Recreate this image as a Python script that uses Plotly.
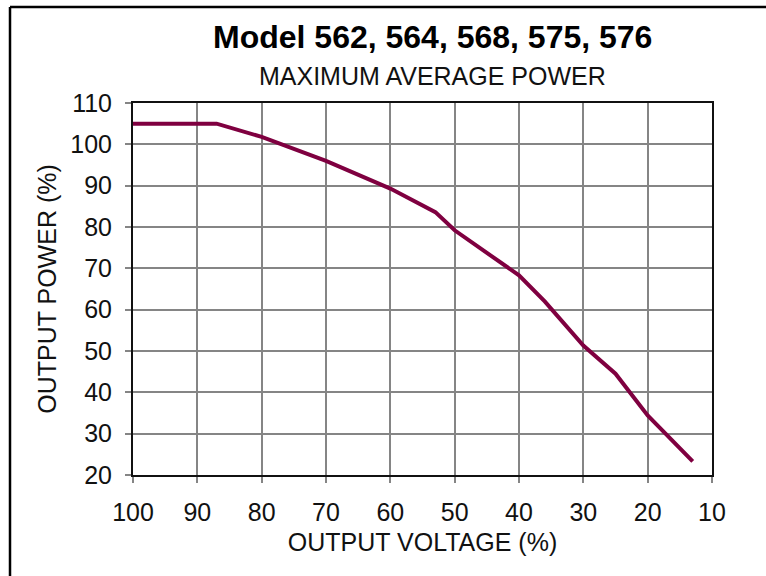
import plotly.graph_objects as go

# Data
output_voltage_pct = [100, 87, 80, 70, 60, 53, 50, 40, 36, 30, 25, 20, 13]
output_power_pct = [105, 105, 101.8, 96, 89.3, 83.6, 79.2, 68.3, 62, 51.3, 44.5, 34.4, 23.3]

x_ticks = [100, 90, 80, 70, 60, 50, 40, 30, 20, 10]
y_ticks = [20, 30, 40, 50, 60, 70, 80, 90, 100, 110]

title_text = "Model 562, 564, 568, 575, 576"
subtitle_text = "MAXIMUM AVERAGE POWER"
x_title = "OUTPUT VOLTAGE (%)"
y_title = "OUTPUT POWER (%)"

FONT = "Liberation Sans, Arial, sans-serif"

fig = go.Figure()
fig.add_trace(go.Scatter(
    x=output_voltage_pct, y=output_power_pct, mode="lines",
    line=dict(color="#7f0040", width=4), showlegend=False, hoverinfo="x+y",
))

W, H = 766, 576
ML, MR, MT, MB = 133, 54, 103, 101
pw, ph = W - ML - MR, H - MT - MB

def px_x(p):
    return (p - ML) / pw

def px_y(p):
    return 1 - (p - MT) / ph

fig.update_layout(
    width=W, height=H,
    margin=dict(l=ML, r=MR, t=MT, b=MB, pad=0),
    paper_bgcolor="white", plot_bgcolor="white",
    font=dict(family=FONT, color="#111111"),
    xaxis=dict(
        range=[100, 10], tickvals=x_ticks, ticktext=[str(v) for v in x_ticks],
        showgrid=True, gridcolor="#858585", gridwidth=1.5,
        showline=True, linecolor="#111111", linewidth=2, mirror=True,
        ticks="outside", ticklen=6, tickcolor="#858585", tickwidth=1.5,
        tickfont=dict(family=FONT, size=25, color="#111111"),
        title=dict(text=x_title, font=dict(family=FONT, size=25, color="#111111"), standoff=8),
        zeroline=False, ticklabelstandoff=8,
    ),
    yaxis=dict(
        range=[20, 110], tickvals=y_ticks, ticktext=[str(v) for v in y_ticks],
        showgrid=True, gridcolor="#858585", gridwidth=1.5,
        showline=True, linecolor="#111111", linewidth=2, mirror=True,
        ticks="outside", ticklen=6, tickcolor="#858585", tickwidth=1.5,
        tickfont=dict(family=FONT, size=25, color="#111111"),
        title=dict(text=y_title, font=dict(family=FONT, size=25, color="#111111"), standoff=7),
        zeroline=False, ticklabelstandoff=8,
    ),
    annotations=[
        dict(text="<b>" + title_text + "</b>", xref="paper", yref="paper",
             x=px_x(432), y=px_y(37), xanchor="center", yanchor="middle",
             showarrow=False, font=dict(family=FONT, size=32, color="#000000")),
        dict(text=subtitle_text, xref="paper", yref="paper",
             x=px_x(432), y=px_y(76), xanchor="center", yanchor="middle",
             showarrow=False, font=dict(family=FONT, size=25, color="#111111")),
    ],
    shapes=[
        dict(type="line", xref="paper", yref="paper",
             x0=px_x(10), x1=px_x(10), y0=px_y(7), y1=px_y(576),
             line=dict(color="#000000", width=2.5)),
        dict(type="line", xref="paper", yref="paper",
             x0=px_x(10), x1=px_x(766), y0=px_y(7), y1=px_y(7),
             line=dict(color="#000000", width=2.5)),
    ],
)

fig.write_html(
    "out.html",
    config={"displayModeBar": False},
    post_script="document.body.style.margin='0';document.body.style.overflow='hidden';",
)
